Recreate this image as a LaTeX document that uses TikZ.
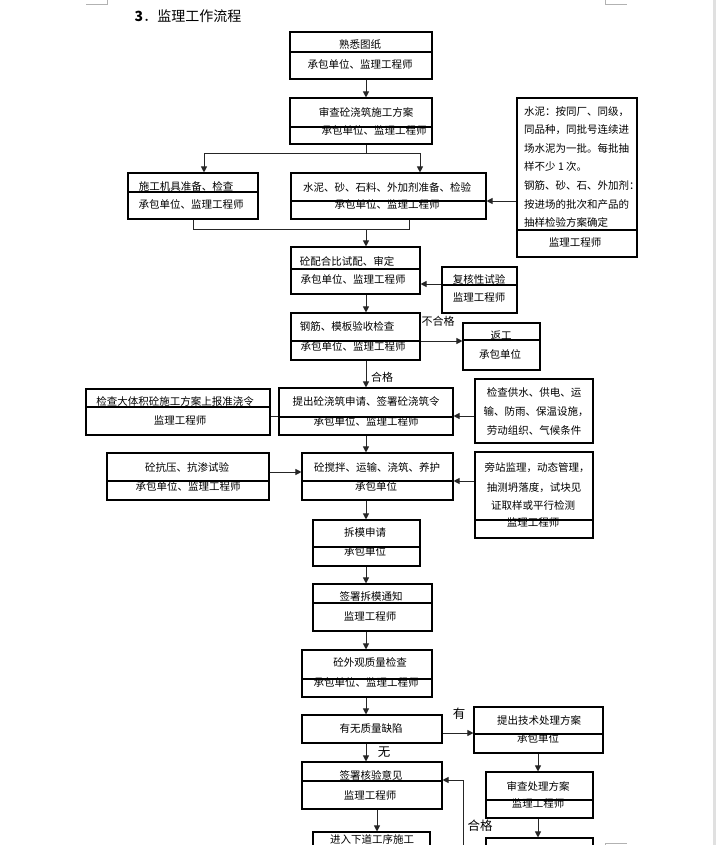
\documentclass[tikz,border=0pt]{standalone}
\usepackage{fontspec}
\newfontfamily\cjk{Noto Sans CJK SC}
\usetikzlibrary{arrows.meta}
\tikzset{
 box/.style={draw=black, line width=1.1pt, inner sep=0pt, rectangle},
 divl/.style={draw=black, line width=1.1pt},
 txt/.style={inner sep=0pt, font=\cjk\fontsize{10.5}{12}\selectfont, text height=0.88em, text depth=0.12em},
 lbl/.style={txt, font=\cjk\fontsize{12.5}{14}\selectfont},
 slbl/.style={txt, font=\cjk\fontsize{11}{13}\selectfont},
 con/.style={draw=black!85, line width=1pt},
 arr/.style={con, -{Triangle[length=6pt,width=6pt]}},
 pagemark/.style={draw=black!30, line width=0.8pt},
}
% name, x1, y1, x2, y2, ydiv
\newcommand\mkbox[6]{%
 \node[box,minimum width={(#4)-(#2)},minimum height={(#5)-(#3)}] (#1) at ({((#2)+(#4))/2},{((#3)+(#5))/2}) {};
 \if\relax\detokenize{#6}\relax\else
  \coordinate (#1d) at (0,#6);
  \draw[divl] (#1.west |- #1d) -- (#1.east |- #1d);
 \fi}
\newcommand\tx[4]{\node[txt] (#1) at (#2,#3) {#4};}
\begin{document}
\begin{tikzpicture}[x=1pt,y=-1pt]
\useasboundingbox (0,0) rectangle (716,845);
\clip (0,0) rectangle (716,845);
\fill[white] (0,0) rectangle (716,845);
% page marks
\fill[black!12] (713,0) rectangle (716,845);
\draw[pagemark] (86,4) -- (107,4) -- (107,0);
\draw[pagemark] (605,0) -- (605,4) -- (627,4);
\draw[pagemark] (605,845) -- (605,843) -- (627,843);
% title
\node[txt, font=\cjk\fontsize{14}{16}\selectfont] (title) at (188,18) {\textbf{3}．监理工作流程};
% coordinates
\coordinate (mx) at (366,0);
% boxes
\mkbox{b1}{290}{32}{432}{79}{52}
\tx{b1a}{360}{45}{熟悉图纸}
\tx{b1b}{360}{65}{承包单位、监理工程师}
\mkbox{b2}{290}{98}{432}{144}{127}
\tx{b2a}{366}{113}{审查砼浇筑施工方案}
\tx{b2b}{374}{131}{承包单位、监理工程师}
\mkbox{b3}{128}{173}{258}{219}{192}
\tx{b3a}{186}{187}{施工机具准备、检查}
\tx{b3b}{191}{205}{承包单位、监理工程师}
\mkbox{b4}{291}{173}{486}{219}{201}
\tx{b4a}{387}{188}{水泥、砂、石料、外加剂准备、检验}
\tx{b4b}{387}{205}{承包单位、监理工程师}
\mkbox{b5}{517}{98}{637}{257}{230}
\node[txt,anchor=west] (b5l1) at (524,112) {水泥：按同厂、同级，};
\node[txt,anchor=west] (b5l2) at (524,130) {同品种，同批号连续进};
\node[txt,anchor=west] (b5l3) at (524,149) {场水泥为一批。每批抽};
\node[txt,anchor=west] (b5l4) at (524,167) {样不少 1 次。};
\node[txt,anchor=west] (b5l5) at (524,186) {钢筋、砂、石、外加剂：};
\node[txt,anchor=west] (b5l6) at (524,205) {按进场的批次和产品的};
\node[txt,anchor=west] (b5l7) at (524,223) {抽样检验方案确定};
\tx{b5b}{575}{243}{监理工程师}
\mkbox{b6}{291}{247}{420}{294}{269}
\tx{b6a}{347}{262}{砼配合比试配、审定}
\tx{b6b}{353}{280}{承包单位、监理工程师}
\mkbox{b7}{442}{267}{517}{313}{285}
\tx{b7a}{479}{280}{复核性试验}
\tx{b7b}{479}{298}{监理工程师}
\mkbox{b8}{291}{313}{420}{360}{341}
\tx{b8a}{347}{327}{钢筋、模板验收检查}
\tx{b8b}{353}{347}{承包单位、监理工程师}
\mkbox{b9}{463}{323}{540}{370}{340}
\tx{b9a}{501}{336}{返工}
\tx{b9b}{500}{355}{承包单位}
\mkbox{b10}{279}{388}{453}{435}{417}
\tx{b10a}{366}{402}{提出砼浇筑申请、签署砼浇筑令}
\tx{b10b}{366}{422}{承包单位、监理工程师}
\mkbox{b11}{86}{389}{270}{435}{407}
\tx{b11a}{175}{402}{检查大体积砼施工方案上报准浇令}
\tx{b11b}{180}{421}{监理工程师}
\mkbox{b12}{475}{379}{593}{443}{}
\tx{b12l1}{534}{393}{检查供水、供电、运}
\tx{b12l2}{536}{412}{输、防雨、保温设施，}
\tx{b12l3}{534}{431}{劳动组织、气候条件}
\mkbox{b13}{302}{453}{453}{500}{481}
\tx{b13a}{377}{468}{砼搅拌、运输、浇筑、养护}
\tx{b13b}{376}{487}{承包单位}
\mkbox{b14}{107}{453}{269}{500}{481}
\tx{b14a}{187}{468}{砼抗压、抗渗试验}
\tx{b14b}{188}{487}{承包单位、监理工程师}
\mkbox{b15}{475}{452}{593}{538}{520}
\tx{b15l1}{537}{468}{旁站监理，动态管理，}
\tx{b15l2}{534}{488}{抽测坍落度，试块见}
\tx{b15l3}{533}{506}{证取样或平行检测}
\tx{b15b}{533}{523}{监理工程师}
\mkbox{b16}{313}{520}{420}{566}{547}
\tx{b16a}{365}{533}{拆模申请}
\tx{b16b}{365}{552}{承包单位}
\mkbox{b17}{313}{584}{432}{631}{603}
\tx{b17a}{371}{597}{签署拆模通知}
\tx{b17b}{370}{617}{监理工程师}
\mkbox{b18}{302}{650}{432}{697}{679}
\tx{b18a}{370}{663}{砼外观质量检查}
\tx{b18b}{366}{683}{承包单位、监理工程师}
\mkbox{b19}{302}{715}{442}{743}{}
\tx{b19a}{371}{729}{有无质量缺陷}
\mkbox{b20}{474}{707}{603}{753}{734}
\tx{b20a}{539}{721}{提出技术处理方案}
\tx{b20b}{538}{739}{承包单位}
\mkbox{b21}{486}{772}{593}{818}{800}
\tx{b21a}{538}{787}{审查处理方案}
\tx{b21b}{538}{804}{监理工程师}
\mkbox{b22}{486}{838}{593}{880}{}
\mkbox{b23}{302}{762}{442}{809}{781}
\tx{b23a}{371}{776}{签署核验意见}
\tx{b23b}{370}{796}{监理工程师}
\mkbox{b24}{313}{832}{430}{880}{}
\tx{b24a}{372}{839.5}{进入下道工序施工}
% connectors
\draw[arr] (b1.south -| mx) -- (b2.north -| mx);
\coordinate (sp) at (366,154);
\coordinate (xa) at (204,0);
\coordinate (xb) at (420,0);
\draw[con] (b2.south -| mx) -- (sp);
\draw[arr] (sp) -| (b3.north -| xa);
\draw[arr] (sp) -| (b4.north -| xb);
\coordinate (y201) at (0,201);
\draw[arr] (b5.west |- y201) -- (b4.east |- y201);
\coordinate (ml) at (193,229);
\coordinate (mr) at (409,229);
\coordinate (mm) at (366,229);
\draw[con] (b3.south -| ml) -- (ml) -- (mr) -- (b4.south -| mr);
\draw[arr] (mm) -- (b6.north -| mm);
\coordinate (y284) at (0,284);
\draw[arr] (b7.west |- y284) -- (b6.east |- y284);
\draw[arr] (b6.south -| mx) -- (b8.north -| mx);
\coordinate (y341) at (0,341);
\draw[arr] (b8.east |- y341) -- (b9.west |- y341);
\node[slbl] (lbl1) at (438,322) {不合格};
\draw[arr] (b8.south -| mx) -- (b10.north -| mx);
\node[slbl] (lbl2) at (382,378) {合格};
\coordinate (y416) at (0,416);
\draw[con] (b11.east |- y416) -- (b10.west |- y416);
\draw[arr] (b12.west |- y416) -- (b10.east |- y416);
\draw[arr] (b10.south -| mx) -- (b13.north -| mx);
\coordinate (y472) at (0,472);
\draw[arr] (b14.east |- y472) -- (b13.west |- y472);
\coordinate (y481) at (0,481);
\draw[arr] (b15.west |- y481) -- (b13.east |- y481);
\draw[arr] (b13.south -| mx) -- (b16.north -| mx);
\draw[arr] (b16.south -| mx) -- (b17.north -| mx);
\draw[arr] (b17.south -| mx) -- (b18.north -| mx);
\draw[arr] (b18.south -| mx) -- (b19.north -| mx);
\coordinate (y733) at (0,733);
\draw[arr] (b19.east |- y733) -- (b20.west |- y733);
\node[lbl] (lbl3) at (459,715) {有};
\coordinate (x538) at (538,0);
\draw[arr] (b20.south -| x538) -- (b21.north -| x538);
\draw[arr] (b21.south -| x538) -- (b22.north -| x538);
\draw[arr] (b19.south -| mx) -- (b23.north -| mx);
\node[lbl] (lbl4) at (384,753) {无};
\coordinate (x377) at (377,0);
\draw[arr] (b23.south -| x377) -- (b24.north -| x377);
\coordinate (lpb) at (463,860);
\coordinate (lpt) at (463,780);
\draw[arr] (lpb) -- (lpt) -- (b23.east |- lpt);
\node[lbl] (lbl5) at (480,827) {合格};
\end{tikzpicture}
\end{document}
